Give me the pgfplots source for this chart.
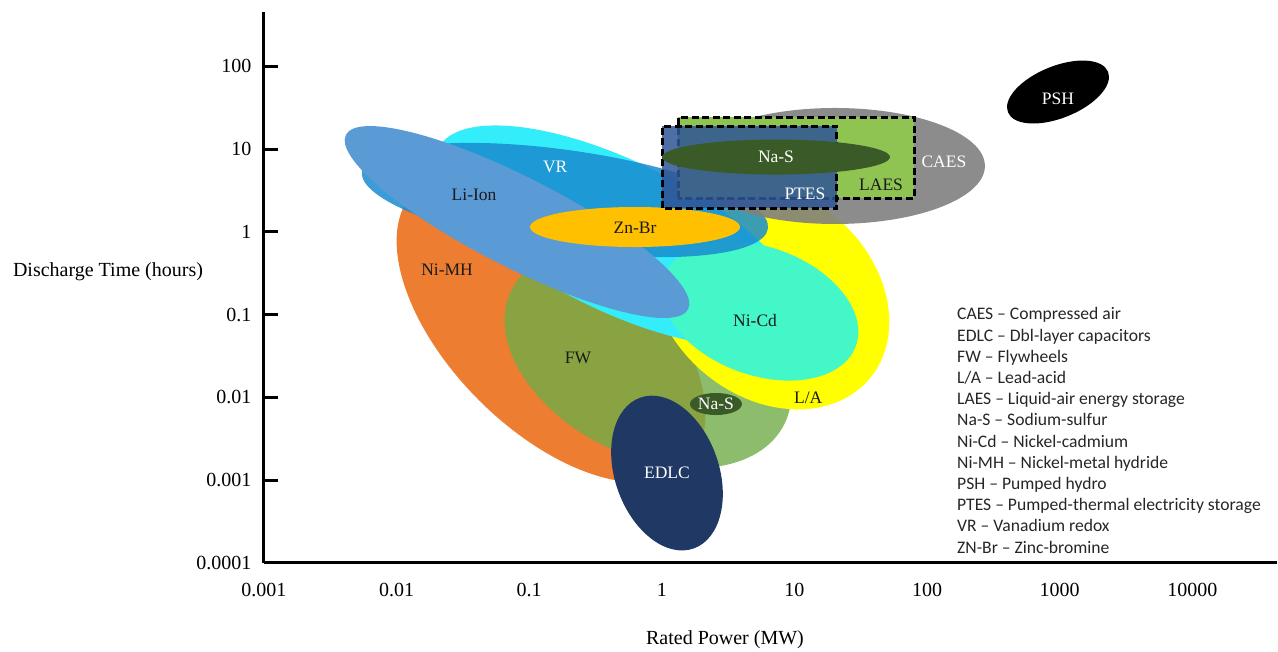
\documentclass[border=0pt]{standalone}
\usepackage{fontspec}
\setmainfont{Liberation Serif}
\newfontfamily\calfont{Carlito}
\usepackage{pgfplots}
\pgfplotsset{compat=1.18}
\definecolor{cNiMH}{HTML}{ED7D31}
\definecolor{cFW}{HTML}{70AD47}
\definecolor{cLA}{HTML}{FFFF00}
\definecolor{cCyan}{HTML}{33EEFA}
\definecolor{cNiCd}{HTML}{44F7C8}
\definecolor{cVR}{HTML}{1A8BD0}
\definecolor{cLi}{HTML}{5B9BD5}
\definecolor{cZn}{HTML}{FFC000}
\definecolor{cCAES}{HTML}{808080}
\definecolor{cLAES}{HTML}{8FC453}
\definecolor{cPTES}{HTML}{2F5597}
\definecolor{cNaS}{HTML}{3A5A28}
\definecolor{cEDLC}{HTML}{203864}
\definecolor{cText}{HTML}{1A1A1A}
% #1 x, #2 y (centre, data), #3 #4 half axes (pt), #5 angle, #6 style
\newcommand{\blob}[6]{\fill[#6, rotate around={#5:(axis cs:#1,#2)}] (axis cs:#1,#2) ellipse [x radius=#3pt, y radius=#4pt];}
\begin{document}
\begin{tikzpicture}
\useasboundingbox (-264pt,-89pt) rectangle (1014pt,563pt);
\begin{axis}[
  scale only axis, width=1013pt, height=551pt,
  xmode=log, ymode=log,
  xmin=0.001, xmax=43550, ymin=0.0001, ymax=452,
  axis lines=left, axis line style={-, line width=3pt},
  clip=false,
  xtick={0.001,0.01,0.1,1,10,100,1000,10000},
  xticklabels={0.001,0.01,0.1,1,10,100,1000,10000},
  ytick={0.0001,0.001,0.01,0.1,1,10,100},
  yticklabels={0.0001,0.001,0.01,0.1,1,10,100},
  xminorticks=false, yminorticks=false,
  tick align=inside,
  major tick length=14pt,
  xtick style={draw=none},
  ytick style={line width=3pt, black},
  tick label style={font=\fontsize{20}{24}\selectfont, text=black},
  yticklabel style={xshift=-9pt},
  xticklabel style={yshift=-17pt},
]
% areas: centre (MW, hours), half axes, rotation
\blob{0.146}{0.0689}{193}{102}{-45}{cNiMH}
\blob{0.787}{0.0308}{152}{99}{-26}{cFW, opacity=0.8}
\blob{6.55}{0.1726}{130}{102}{-40}{cLA}
\blob{0.468}{0.889}{200}{75}{-26}{cCyan}
\blob{5.50}{0.1104}{102}{64}{-20}{cNiCd}
\blob{0.186}{2.42}{205}{50}{-8}{cVR, opacity=0.85}
\blob{0.0809}{1.313}{192}{45}{-27}{cLi}
\blob{0.628}{1.143}{105}{20}{0}{cZn}
\blob{20.2}{6.24}{150}{58}{0}{cCAES, opacity=0.9}
\fill[cLAES, draw=black, line width=3pt, dash pattern=on 7pt off 3.5pt] (axis cs:1.325,2.56) rectangle (axis cs:79.8,24.3);
\fill[cPTES, fill opacity=0.85, draw=black, line width=3pt, dash pattern=on 7pt off 3.5pt] (axis cs:1.005,1.94) rectangle (axis cs:20.9,18.95);
\blob{7.26}{8.0}{114}{17.5}{0}{cNaS}
\blob{2.56}{0.00832}{26}{11}{0}{cNaS}
\blob{1.094}{0.00122}{80}{52}{-70.5}{cEDLC}
\blob{972}{48.8}{54}{26}{22}{black}
% labels
\begin{scope}[every node/.style={font=\fontsize{17.5}{20}\selectfont}]
\node[text=white] at (axis cs:972,40.2) {PSH};
\node[text=white] at (axis cs:134,6.97) {CAES};
\node[text=cText] at (axis cs:45.0,3.67) {LAES};
\node[text=white] at (axis cs:12.0,2.86) {PTES};
\node[text=white] at (axis cs:7.26,8.0) {Na-S};
\node[text=white] at (axis cs:0.157,6.07) {VR};
\node[text=cText] at (axis cs:0.0384,2.78) {Li-Ion};
\node[text=cText] at (axis cs:0.628,1.11) {Zn-Br};
\node[text=cText] at (axis cs:0.0240,0.346) {Ni-MH};
\node[text=cText] at (axis cs:5.05,0.0838) {Ni-Cd};
\node[text=cText] at (axis cs:0.233,0.0299) {FW};
\node[text=cText] at (axis cs:12.7,0.00985) {L/A};
\node[text=white] at (axis cs:2.56,0.00832) {Na-S};
\node[text=white] at (axis cs:1.094,0.00122) {EDLC};
\end{scope}
\end{axis}
\node[font=\fontsize{20}{24}\selectfont] at (-156pt,291pt) {Discharge Time (hours)};
\node[font=\fontsize{20}{24}\selectfont] at (461pt,-77pt) {Rated Power (MW)};
\begin{scope}[every node/.style={anchor=base west, inner sep=0pt, font=\calfont\fontsize{17.6}{21}\selectfont, text={black!85}}]
\node at (693pt,243pt) {CAES – Compressed air};
\node at (693pt,221.8pt) {EDLC – Dbl-layer capacitors};
\node at (693pt,200.6pt) {FW – Flywheels};
\node at (693pt,179.4pt) {L/A – Lead-acid};
\node at (693pt,158.2pt) {LAES – Liquid-air energy storage};
\node at (693pt,137pt) {Na-S – Sodium-sulfur};
\node at (693pt,115.8pt) {Ni-Cd – Nickel-cadmium};
\node at (693pt,94.6pt) {Ni-MH – Nickel-metal hydride};
\node at (693pt,73.4pt) {PSH – Pumped hydro};
\node at (693pt,52.2pt) {PTES – Pumped-thermal electricity storage};
\node at (693pt,31pt) {VR – Vanadium redox};
\node at (693pt,9.8pt) {ZN-Br – Zinc-bromine};
\end{scope}
\end{tikzpicture}
\end{document}
